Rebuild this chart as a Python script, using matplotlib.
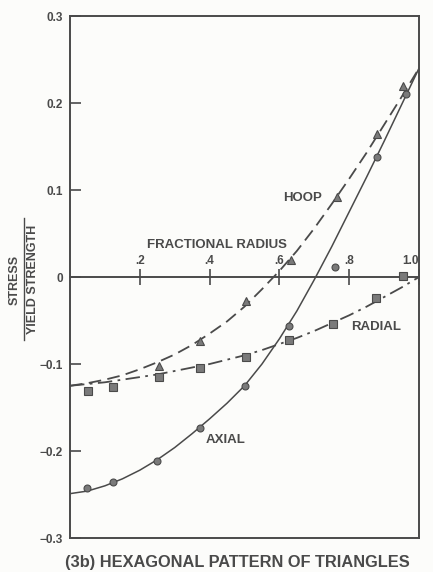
#!/usr/bin/env python3

import numpy as np
import matplotlib.pyplot as plt
from matplotlib.lines import Line2D

# measured points (fractional radius, stress / yield strength)
axial_r = [0.05, 0.124, 0.25, 0.372, 0.50, 0.628, 0.759, 0.879, 0.963]
axial_s = [-0.243, -0.236, -0.212, -0.174, -0.125, -0.056, 0.011, 0.138, 0.210]

hoop_r = [0.254, 0.372, 0.504, 0.632, 0.766, 0.879, 0.955]
hoop_s = [-0.102, -0.073, -0.028, 0.019, 0.092, 0.164, 0.219]

radial_r = [0.052, 0.124, 0.254, 0.372, 0.504, 0.628, 0.754, 0.876, 0.955]
radial_s = [-0.131, -0.126, -0.115, -0.104, -0.092, -0.072, -0.054, -0.024, 0.001]

# fitted curves
curve_r = [0.0, 0.05, 0.1, 0.15, 0.2, 0.25, 0.3, 0.35, 0.4, 0.45, 0.5,
           0.55, 0.6, 0.65, 0.7, 0.75, 0.8, 0.85, 0.9, 0.95, 1.0]
axial_fit = [-0.249, -0.246, -0.240, -0.232, -0.222, -0.210, -0.196, -0.180,
             -0.163, -0.145, -0.125, -0.100, -0.071, -0.039, -0.003, 0.035,
             0.075, 0.115, 0.156, 0.198, 0.240]
hoop_fit = [-0.125, -0.122, -0.118, -0.113, -0.106, -0.098, -0.089, -0.078,
            -0.065, -0.051, -0.034, -0.014, 0.007, 0.030, 0.056, 0.084,
            0.113, 0.143, 0.175, 0.207, 0.240]
radial_fit = [-0.125, -0.123, -0.121, -0.118, -0.115, -0.112, -0.108, -0.104,
              -0.100, -0.095, -0.090, -0.084, -0.077, -0.070, -0.062, -0.053,
              -0.044, -0.034, -0.023, -0.012, 0.0]

y_ticks = [0.3, 0.2, 0.1, 0.0, -0.1, -0.2, -0.3]
y_labels = ['0.3', '0.2', '0.1', '0', '\u22120.1', '\u22120.2', '\u22120.3']
r_ticks = [0.2, 0.4, 0.6, 0.8, 1.0]
r_labels = ['.2', '.4', '.6', '.8', '1.0']

INK = '#4a4a4a'
MARK = '#7a7a7a'


def main():
    plt.rcParams['font.family'] = ['Liberation Sans', 'DejaVu Sans']
    plt.rcParams['font.weight'] = 'bold'
    fig = plt.figure(figsize=(4.33, 5.72), dpi=100, facecolor='#fcfcfa')
    ax = fig.add_axes([0.1617, 0.0594, 0.806, 0.9126], facecolor='#fcfcfa')

    ax.plot(curve_r, axial_fit, '-', color=INK, lw=1.1)
    ax.plot(curve_r, hoop_fit, color=INK, lw=1.3, dashes=(7, 3.5))
    ax.plot(curve_r, radial_fit, color=INK, lw=1.3, dashes=(8, 3, 1.5, 3))

    ax.plot(axial_r, axial_s, 'o', ms=5, color=MARK, mec=INK, mew=0.8)
    ax.plot(hoop_r, hoop_s, '^', ms=6, color=MARK, mec=INK, mew=0.8)
    ax.plot(radial_r, radial_s, 's', ms=5.5, color=MARK, mec=INK, mew=0.8)

    ax.set_xlim(0, 1.0)
    ax.set_ylim(-0.3, 0.3)
    ax.set_yticks(y_ticks)
    ax.set_yticklabels(y_labels)
    ax.set_xticks([])
    ax.tick_params(axis='y', direction='in', length=8, width=1.2,
                   color=INK, labelcolor=INK, labelsize=8.5, pad=5)
    for sp in ax.spines.values():
        sp.set_color(INK)
        sp.set_linewidth(1.4)

    # fractional radius axis along the zero line
    sec = ax.secondary_xaxis(0.5)
    sec.set_xticks(r_ticks)
    sec.set_xticklabels(r_labels)
    sec.tick_params(axis='x', direction='inout', length=12, width=1.2,
                    color=INK, labelcolor=INK, labelsize=8.5, pad=1)
    sec.get_xticklabels()[-1].set_horizontalalignment('right')
    sec.spines['top'].set_color(INK)
    sec.spines['top'].set_linewidth(1.4)
    sec.set_xlabel('FRACTIONAL RADIUS', fontsize=9.5, color=INK,
                   fontweight='bold')
    sec.xaxis.set_label_coords(0.42, 0.555, transform=ax.transAxes)

    ax.text(0.665, 0.091, 'HOOP', fontsize=9.5, color=INK, ha='center', va='center')
    ax.text(0.877, -0.058, 'RADIAL', fontsize=9.5, color=INK, ha='center', va='center')
    ax.text(0.447, -0.187, 'AXIAL', fontsize=9.5, color=INK, ha='center', va='center')

    # y label as a fraction
    fig.text(15 / 433, 1 - 280 / 572, 'STRESS', rotation=90, fontsize=9,
             color=INK, ha='center', va='center')
    fig.text(33 / 433, 1 - 279 / 572, 'YIELD STRENGTH', rotation=90, fontsize=9,
             color=INK, ha='center', va='center')
    fig.add_artist(Line2D([24 / 433, 24 / 433], [1 - 218 / 572, 1 - 340 / 572],
                          color=INK, lw=1.0, transform=fig.transFigure))

    fig.text(237 / 433, 1 - 562 / 572, '(3b) HEXAGONAL PATTERN OF TRIANGLES',
             fontsize=11.8, color=INK, ha='center', va='center')

    fig.savefig('out.png', dpi=100, facecolor=fig.get_facecolor())


if __name__ == '__main__':
    main()
